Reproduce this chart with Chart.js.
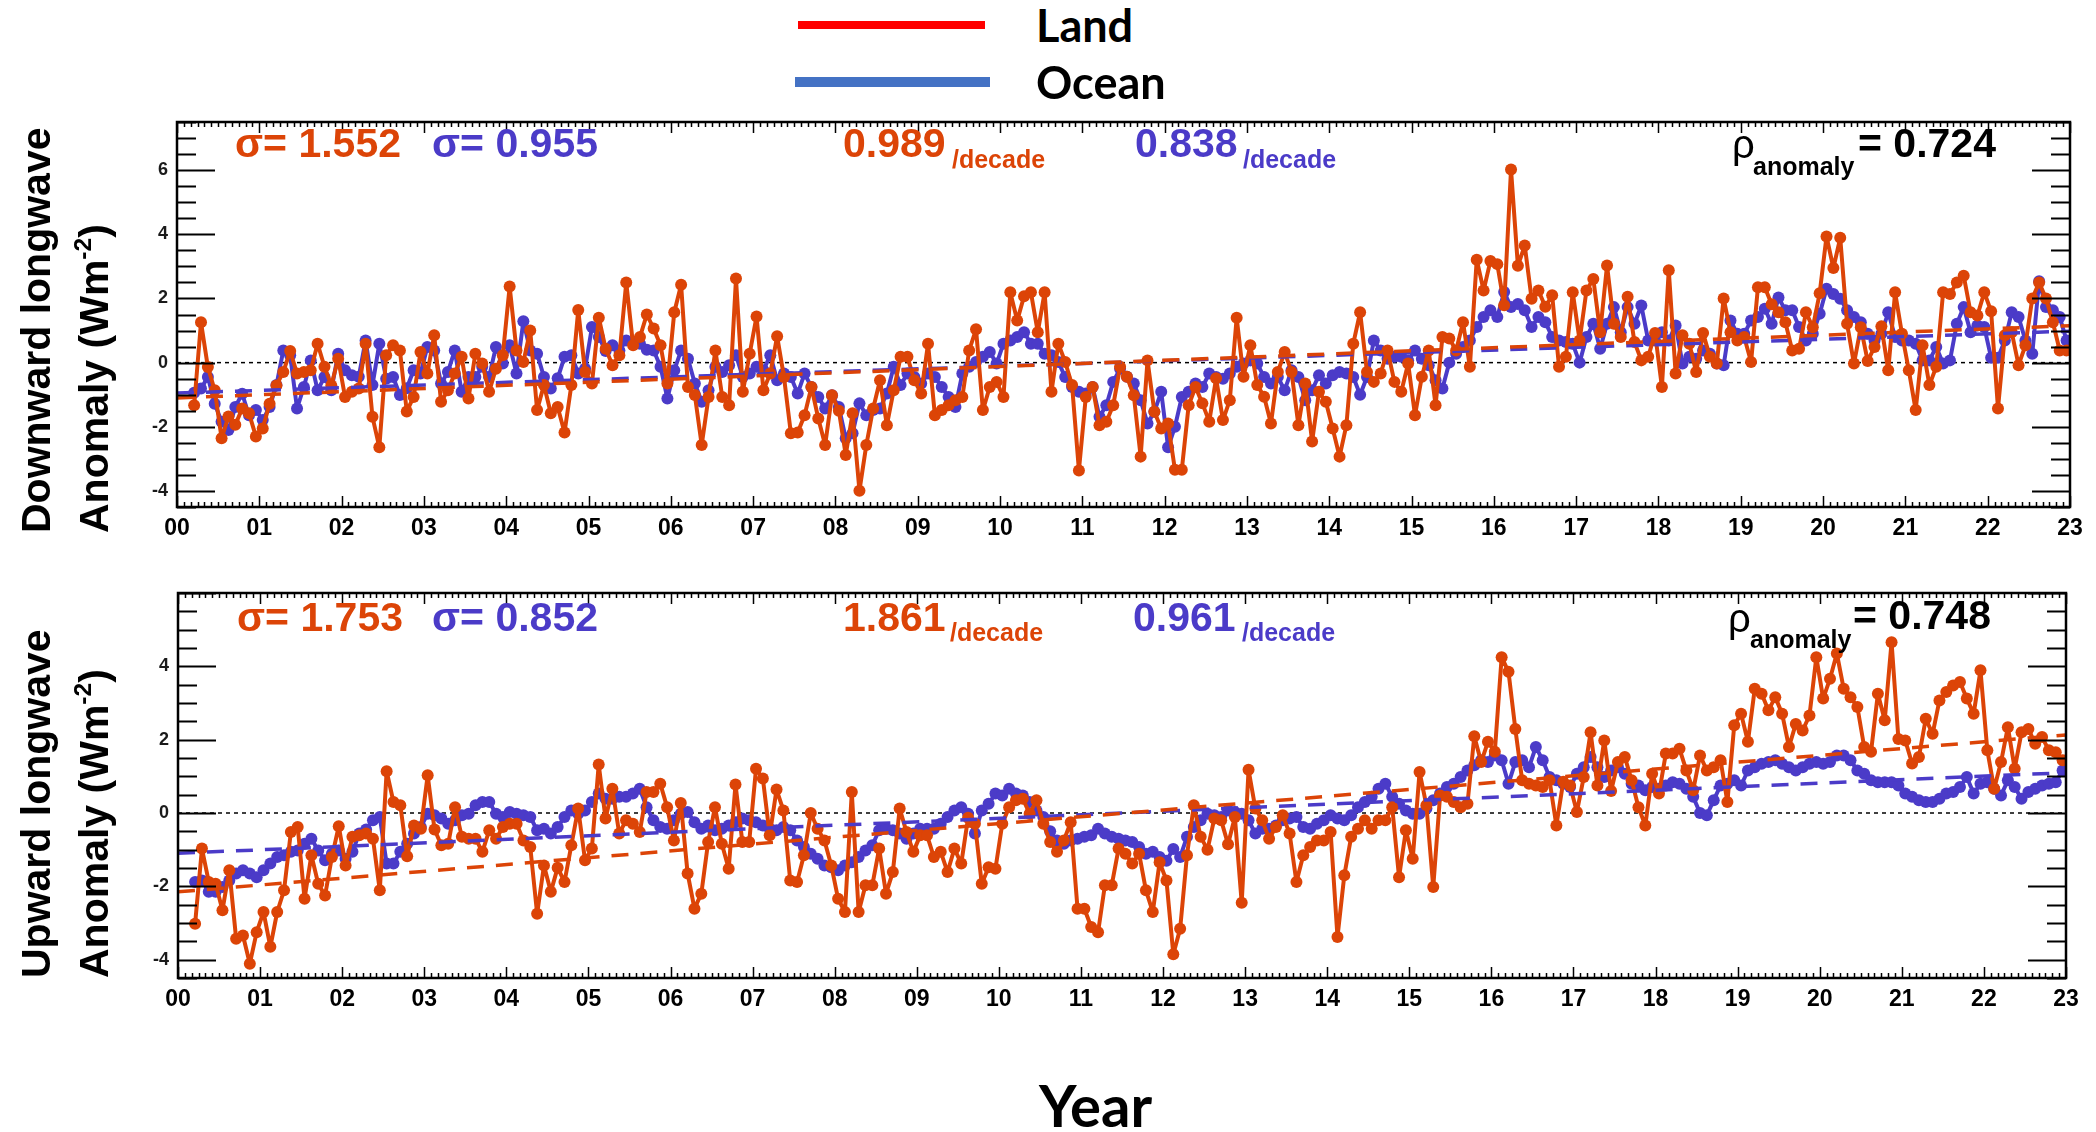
<!DOCTYPE html>
<html>
<head>
<meta charset="utf-8">
<script src="https://cdn.jsdelivr.net/npm/chart.js@4.4.1/dist/chart.umd.min.js"></script>
<style>
  html, body { margin: 0; padding: 0; background: #fff; }
  body { width: 2096px; height: 1132px; position: relative; overflow: hidden; }
  canvas { position: absolute; left: 0; }
  .t { position: absolute; white-space: nowrap; line-height: 1;
       font-family: 'Liberation Sans', Arial, sans-serif; font-weight: bold; }
  .ytitle { position: absolute; transform-origin: 0 0; transform: rotate(-90deg);
            font: bold 41px 'Liberation Sans', Arial, sans-serif; line-height: 58px; white-space: nowrap; }
  .ytitle sup { font-size: 0.6em; line-height: 0; vertical-align: 0.7em; }
  .leg { position: absolute; }
  .cal { position: absolute; font-family: Lato, 'Open Sans', sans-serif; font-weight: bold;
         line-height: 1; white-space: nowrap; color: #000; }
</style>
</head>
<body>

<canvas id="topChart" width="2096" height="460" style="top:100px"></canvas>
<canvas id="bottomChart" width="2096" height="460" style="top:570px"></canvas>

<div class="leg" style="left:798px; top:21px; width:187px; height:8px; background:#ff0000"></div>
<div class="leg" style="left:795px; top:77px; width:195px; height:10px; background:#4472c4"></div>
<div class="cal" style="left:1036px; top:3px; font-size:45px">Land</div>
<div class="cal" style="left:1036px; top:60px; font-size:45px">Ocean</div>
<div class="cal" style="left:1039px; top:1076px; font-size:58px">Year</div>

<div class="ytitle" style="left:7px; top:533px">Downward longwave<br>Anomaly (Wm<sup>-2</sup>)</div>
<div class="ytitle" style="left:7px; top:978px">Upward longwave<br>Anomaly (Wm<sup>-2</sup>)</div>

<script>
// monthly anomalies, March 2000 .. December 2022 (one row per year)
const firstMonth = 2;

const downLand = [
  -1.33, 1.26, -0.14, -0.86, -2.36, -1.68, -1.94, -1.43, -1.58, -2.30,
  -2.05, -1.28, -0.71, -0.29, 0.36, -0.34, -0.29, -0.24, 0.59, -0.13, -0.71, 0.12,
  -1.07, -0.91, -0.81, 0.59, -1.69, -2.64, 0.23, 0.54, 0.38, -1.52, -1.07, 0.33,
  -0.34, 0.85, -1.22, -0.86, -0.34, 0.18, -1.12, 0.28, -0.03, -0.91, -0.19, 0.23,
  2.37, 0.38, 0.02, 1.00, -1.48, -0.70, -1.58, -1.38, -2.18, -0.70, 1.64, -0.29,
  -0.65, 1.40, 0.43, -0.08, 0.23, 2.50, 0.54, 0.80, 1.50, 1.06, 0.54, -0.65,
  1.57, 2.43, -0.76, -1.01, -2.57, -1.07, 0.38, -1.07, -1.33, 2.62, -0.91, 0.28,
  1.44, -0.86, -0.34, 0.82, -0.45, -2.20, -2.18, -1.64, -0.76, -1.74, -2.57, -1.02,
  -1.50, -2.88, -1.58, -3.99, -2.57, -1.43, -0.55, -1.95, -0.86, 0.18, 0.18, -0.55,
  -0.96, 0.59, -1.64, -1.48, -1.33, -1.17, -1.07, 0.38, 1.04, -1.48, -0.76, -0.60,
  -1.07, 2.19, 1.31, 2.07, 2.19, 0.95, 2.19, -0.91, 0.59, 0.02, -0.70, -3.36,
  -1.07, -0.76, -1.95, -1.84, -1.33, -0.13, -0.44, -1.02, -2.93, 0.07, -1.53, -2.05,
  -1.90, -3.34, -3.34, -1.33, -0.76, -1.27, -1.84, -0.49, -1.79, -1.17, 1.40, -0.44,
  0.54, -0.70, -1.06, -1.90, -0.29, 0.33, -0.29, -1.95, -0.65, -2.46, -0.91, -1.22,
  -2.05, -2.93, -1.95, 0.59, 1.57, -0.29, -0.60, -0.34, 0.38, -0.60, -0.91, -0.03,
  -1.64, -0.44, 0.38, -1.33, 0.80, 0.75, 0.38, 1.26, -0.13, 3.21, 2.25, 3.17,
  3.07, 1.79, 6.02, 3.02, 3.65, 1.99, 2.25, 1.74, 2.10, -0.13, 0.18, 2.19,
  0.69, 2.25, 2.61, 0.95, 3.03, 1.21, 0.80, 2.05, 0.64, 0.07, 0.18, 0.92,
  -0.76, 2.88, -0.34, 0.85, 0.59, -0.29, 0.92, 0.18, -0.03, 2.00, 0.95, 0.69,
  0.80, 0.02, 2.35, 2.35, 1.82, 1.57, 1.26, 0.38, 0.43, 1.57, 1.10, 2.16,
  3.93, 2.95, 3.89, 1.21, -0.03, 1.10, 0.05, 0.49, 1.13, -0.24, 2.19, 0.90,
  -0.24, -1.48, 0.54, -0.70, -0.13, 2.19, 2.14, 2.50, 2.71, 1.57, 1.47, 2.19,
  1.60, -1.43, 0.85, 0.95, -0.08, 0.54, 2.00, 2.50, 2.00, 1.26, 0.38, 0.38
];

const downOcean = [
  -0.94, -0.81, -0.45, -1.28, -1.84, -2.10, -1.38, -0.97, -1.64, -1.48,
  -1.79, -1.38, -0.70, 0.38, 0.23, -1.43, -0.76, 0.07, -0.86, -0.45, -0.86, 0.28,
  -0.24, -0.39, -0.44, 0.69, -0.70, 0.59, -0.50, -0.45, -1.01, -0.80, -0.24, -0.34,
  0.49, 0.38, -0.65, -0.29, 0.38, -0.91, -0.45, -0.45, -0.13, -0.45, 0.49, -0.03,
  0.54, -0.34, 1.29, 0.38, 0.28, -0.45, -0.81, -0.49, 0.18, 0.23, -0.34, -0.19,
  1.11, 0.80, 0.36, 0.54, 0.38, 0.69, 0.64, 0.59, 0.40, 0.38, -0.13, -1.12,
  -0.24, 0.38, 0.12, -0.65, -1.22, -0.86, -0.13, -0.29, -0.08, 0.23, -0.45, -0.34,
  -0.13, -0.24, 0.23, -0.55, -0.34, -0.45, -0.96, -0.34, -0.76, -1.07, -1.43, -1.02,
  -1.38, -2.36, -2.20, -1.27, -1.64, -1.48, -1.43, -0.96, -0.13, -0.70, -0.34, -0.45,
  -0.65, -0.34, -0.45, -0.76, -1.07, -1.38, -0.34, -0.13, 0.02, 0.18, 0.33, -0.03,
  0.59, 0.69, 0.80, 0.95, 0.59, 0.59, 0.28, 0.23, 0.02, -0.45, -0.76, -0.91,
  -0.96, -0.76, -1.69, -1.33, -0.60, -0.19, -0.44, -0.65, -1.17, -1.90, -1.53, -0.91,
  -2.64, -2.00, -1.07, -0.91, -0.65, -0.76, -0.34, -0.45, -0.50, -0.34, -0.13, -0.03,
  0.07, -0.03, -0.45, -0.65, -0.45, -0.86, -0.24, -0.45, -1.17, -0.86, -0.39, -0.65,
  -0.39, -0.29, -0.34, -0.45, -1.00, -0.45, 0.69, 0.38, 0.12, 0.18, 0.18, 0.07,
  0.38, 0.12, -0.08, -0.55, -0.81, 0.00, 0.28, 0.49, 0.69, 1.11, 1.42, 1.63,
  1.42, 2.20, 1.73, 1.83, 1.63, 1.11, 1.42, 1.26, 0.80, 0.69, 0.64, 0.59,
  0.00, 0.80, 1.21, 0.43, 1.21, 1.73, 0.95, 1.73, 1.21, 1.78, 0.69, 0.69,
  0.95, 0.69, 1.16, -0.03, 0.18, 0.12, 0.38, 0.28, -0.03, -0.08, 1.31, 0.90,
  0.90, 1.31, 1.42, 1.68, 1.21, 2.03, 1.63, 1.63, 1.11, 0.69, 0.90, 1.52,
  2.30, 2.14, 1.99, 1.63, 1.42, 1.26, 0.90, 0.69, 0.90, 1.57, 0.80, 0.69,
  0.69, 0.59, 0.07, 0.07, 0.49, -0.03, 0.07, 1.21, 1.73, 0.95, 1.16, 1.11,
  0.15, 0.15, 0.69, 1.57, 1.42, 0.69, 0.28, 2.54, 1.73, 1.63, 1.42, 0.69
];

const upLand = [
  -3.02, -0.97, -1.88, -1.93, -2.65, -1.56, -3.43, -3.34, -4.11, -3.25,
  -2.70, -3.65, -2.70, -2.11, -0.52, -0.38, -2.34, -1.15, -1.93, -2.25, -1.20, -0.36,
  -1.43, -0.65, -0.61, -0.56, -0.70, -2.11, 1.14, 0.30, 0.21, -1.18, -0.34, -0.43,
  1.03, -0.45, -0.88, -0.84, 0.16, -0.65, -0.70, -0.70, -1.06, -0.47, -0.70, -0.38,
  -0.29, -0.29, -0.75, -0.93, -2.75, -1.43, -2.15, -1.49, -1.88, -0.88, 0.12, -1.29,
  -0.97, 1.32, -0.15, 0.66, -0.56, -0.20, -0.29, -0.52, 0.57, 0.57, 0.80, 0.16,
  -0.75, 0.27, -1.65, -2.61, -2.20, -0.79, 0.16, -0.84, -1.52, 0.78, -0.79, -0.79,
  1.21, 0.94, -0.61, 0.64, 0.07, -1.84, -1.88, -1.15, 0.00, -0.43, -0.75, -1.43,
  -2.34, -2.70, 0.57, -2.70, -1.97, -1.97, -0.97, -2.20, -1.61, 0.12, -0.52, -1.06,
  -0.61, -0.61, -1.20, -1.06, -1.61, -0.97, -1.38, -0.13, -0.29, -1.93, -1.48, -1.52,
  -0.29, 0.16, 0.35, 0.39, -0.02, 0.35, -0.29, -0.79, -1.06, -0.75, -0.25, -2.61,
  -2.61, -3.11, -3.25, -1.97, -1.97, -0.97, -1.11, -1.38, -1.11, -2.11, -2.70, -1.34,
  -1.84, -3.85, -3.16, -1.15, 0.21, -0.65, -1.00, -0.15, -0.20, -0.85, -0.11, -2.45,
  1.18, 0.12, -0.20, -0.70, -0.38, -0.06, -0.56, -1.88, -1.15, -0.93, -0.75, -0.75,
  -0.52, -3.38, -1.70, -0.65, -0.43, -0.20, -0.43, -0.20, -0.20, 0.16, -1.75, -0.47,
  -1.25, 1.12, 0.21, -2.02, 0.48, 0.44, 0.30, 0.16, 0.25, 2.09, 1.39, 1.94,
  1.67, 4.25, 3.85, 2.29, 0.89, 0.80, 0.75, 0.71, 0.89, -0.34, 0.85, 0.75,
  0.03, 0.98, 2.20, 0.75, 1.98, 0.60, 1.39, 1.53, 0.89, 0.16, -0.34, 1.07,
  0.53, 1.62, 1.62, 1.75, 1.16, 0.62, 1.57, 1.16, 1.25, 1.44, 0.30, 2.39,
  2.71, 1.94, 3.39, 3.25, 2.80, 3.16, 2.71, 1.80, 2.43, 2.25, 2.66, 4.25,
  3.12, 3.66, 4.35, 3.39, 3.16, 2.89, 1.80, 1.67, 3.25, 2.53, 4.66, 2.02,
  1.98, 1.35, 1.53, 2.57, 2.16, 3.07, 3.30, 3.48, 3.57, 3.12, 2.71, 3.89,
  1.71, 0.66, 1.39, 2.34, 1.21, 2.20, 2.29, 1.89, 2.07, 1.71, 1.66, 1.44
];

const upOcean = [
  -1.88, -1.84, -2.15, -2.15, -2.02, -1.84, -1.65, -1.56, -1.65, -1.75,
  -1.56, -1.38, -1.20, -1.15, -1.06, -1.02, -0.84, -0.70, -1.02, -1.29, -1.11, -1.02,
  -1.25, -1.06, -0.56, -0.45, -0.20, -0.11, -1.38, -1.38, -1.06, -0.84, -0.56, -0.38,
  -0.02, -0.06, -0.15, -0.29, -0.20, -0.06, -0.02, 0.21, 0.30, 0.30, -0.02, -0.11,
  0.03, -0.02, -0.06, -0.11, -0.47, -0.43, -0.56, -0.38, -0.11, 0.07, -0.02, 0.07,
  0.30, 0.53, 0.39, 0.39, 0.44, 0.44, 0.53, 0.66, 0.16, -0.20, -0.38, -0.43,
  -0.20, -0.02, 0.03, -0.25, -0.43, -0.34, -0.47, -0.43, -0.34, -0.25, -0.15, -0.20,
  -0.25, -0.34, -0.43, -0.47, -0.38, -0.47, -0.75, -0.93, -1.11, -1.25, -1.43, -1.48,
  -1.56, -1.43, -1.34, -1.20, -1.02, -0.88, -0.47, -0.43, -0.47, -0.56, -0.70, -0.56,
  -0.43, -0.43, -0.43, -0.29, -0.11, 0.07, 0.16, -0.02, -0.56, 0.07, 0.25, 0.53,
  0.48, 0.66, 0.53, 0.48, 0.30, 0.07, -0.11, -0.50, -0.75, -0.84, -0.75, -0.70,
  -0.65, -0.61, -0.43, -0.56, -0.65, -0.70, -0.75, -0.79, -0.93, -1.11, -1.06, -1.20,
  -1.30, -0.98, -1.20, -0.65, -0.38, -0.20, -0.02, -0.06, -0.11, 0.07, 0.03, -0.02,
  -0.20, -0.56, -0.43, -0.43, -0.34, -0.20, -0.15, -0.11, -0.38, -0.43, -0.29, -0.20,
  -0.06, -0.15, -0.20, -0.06, 0.16, 0.30, 0.44, 0.66, 0.80, 0.44, 0.25, 0.07,
  -0.02, -0.02, 0.12, 0.35, 0.53, 0.71, 0.80, 0.98, 1.16, 1.30, 1.44, 1.39,
  1.57, 1.44, 0.80, 1.39, 1.44, 1.25, 1.80, 1.44, 0.98, 0.89, 0.80, 0.71,
  1.07, 1.25, 1.53, 1.25, 0.98, 1.16, 1.25, 1.07, 0.80, 0.75, 0.62, 0.71,
  0.66, 0.75, 0.84, 0.80, 0.66, 0.44, 0.00, -0.06, 0.35, 0.75, 0.80, 0.89,
  0.75, 1.16, 1.25, 1.34, 1.39, 1.44, 1.34, 1.25, 1.16, 1.25, 1.34, 1.39,
  1.34, 1.39, 1.57, 1.57, 1.44, 1.16, 1.07, 0.89, 0.84, 0.84, 0.84, 0.75,
  0.53, 0.44, 0.35, 0.30, 0.30, 0.39, 0.53, 0.57, 0.71, 0.98, 0.53, 0.80,
  0.84, 0.66, 0.48, 0.89, 0.71, 0.39, 0.57, 0.66, 0.75, 0.80, 0.84, 1.16
];

// fitted trend lines, value at the start (00) and end (23) of the axis
const trendX = [0, 23];
const downLandTrend = [-1.10, 1.15];
const downOceanTrend = [-0.95, 0.98];
const upLandTrend = [-2.15, 2.13];
const upOceanTrend = [-1.10, 1.10];

const yearTicks = [0,1,2,3,4,5,6,7,8,9,10,11,12,13,14,15,16,17,18,19,20,21,22,23];
const yearLabels = ['00','01','02','03','04','05','06','07','08','09','10','11',
                    '12','13','14','15','16','17','18','19','20','21','22','23'];
const downTicks = [-4, -2, 0, 2, 4, 6];
const upTicks = [-4, -2, 0, 2, 4];

const LAND = '#dc4407';
const OCEAN = '#4b3bc8';

const toPoints = arr => arr.map((v, i) => ({ x: (firstMonth + i + 0.5) / 12, y: v }));
const toLine = arr => arr.map((v, i) => ({ x: trendX[i], y: v }));

// ROOT-like frame: inward ticks on all four sides and a dotted zero line
const rootFrame = {
  id: 'rootFrame',
  beforeDatasetsDraw(chart) {
    const { ctx, chartArea: a, scales: { y } } = chart;
    const y0 = y.getPixelForValue(0);
    ctx.save();
    ctx.strokeStyle = '#000';
    ctx.lineWidth = 1.5;
    ctx.setLineDash([4, 4]);
    ctx.beginPath();
    ctx.moveTo(a.left, y0);
    ctx.lineTo(a.right, y0);
    ctx.stroke();
    ctx.restore();
  },
  afterDraw(chart) {
    const { ctx, chartArea: a, scales: { x, y } } = chart;
    ctx.save();
    ctx.strokeStyle = '#000';
    ctx.lineWidth = 2;
    ctx.beginPath();
    for (let v = Math.ceil(y.min * 2) / 2; v <= y.max; v += 0.5) {
      const py = Math.round(y.getPixelForValue(v)) + 0.5;
      const len = Number.isInteger(v / 2) ? 38 : 19;
      ctx.moveTo(a.left, py); ctx.lineTo(a.left + len, py);
      ctx.moveTo(a.right, py); ctx.lineTo(a.right - len, py);
    }
    ctx.stroke();
    ctx.lineWidth = 1.5;
    ctx.beginPath();
    for (let m = 0; m <= 23 * 12; m++) {
      const px = Math.round(x.getPixelForValue(m / 12)) + 0.5;
      const len = m % 12 === 0 ? 11 : 5;
      ctx.moveTo(px, a.bottom); ctx.lineTo(px, a.bottom - len);
      ctx.moveTo(px, a.top); ctx.lineTo(px, a.top + len);
    }
    ctx.stroke();
    ctx.lineWidth = 2.5;
    ctx.strokeRect(a.left, a.top, a.right - a.left, a.bottom - a.top);
    ctx.restore();
  }
};

function makeChart(id, land, ocean, landTrend, oceanTrend, yMin, yMax, yTicks, box) {
  const series = (data, color, order) => ({
    data: toPoints(data),
    borderColor: color,
    backgroundColor: color,
    borderWidth: 4,
    borderJoinStyle: 'round',
    borderCapStyle: 'round',
    pointRadius: 6,
    pointBorderWidth: 0,
    tension: 0,
    order
  });
  const trend = (data, color, order) => ({
    data: toLine(data),
    borderColor: color,
    borderWidth: 3.5,
    borderDash: [17, 12],
    pointRadius: 0,
    order
  });
  return new Chart(document.getElementById(id), {
    type: 'line',
    data: {
      datasets: [
        series(ocean, OCEAN, 4),
        series(land, LAND, 3),
        trend(oceanTrend, OCEAN, 2),
        trend(landTrend, LAND, 1)
      ]
    },
    options: {
      responsive: false,
      animation: false,
      devicePixelRatio: 1,
      layout: { padding: { top: box.top, right: box.right, left: 0, bottom: 0 } },
      plugins: { legend: { display: false }, tooltip: { enabled: false } },
      scales: {
        x: {
          type: 'linear',
          min: 0,
          max: 23,
          grid: { display: false, drawTicks: false },
          border: { display: false },
          afterBuildTicks: s => { s.ticks = yearTicks.map(v => ({ value: v })); },
          afterFit: s => { s.height = box.xHeight; },
          ticks: {
            autoSkip: false,
            maxRotation: 0,
            padding: 8,
            color: '#000',
            font: { family: 'Liberation Sans', weight: 'bold', size: 23 },
            callback: (v, i) => yearLabels[i]
          }
        },
        y: {
          min: yMin,
          max: yMax,
          grid: { display: false, drawTicks: false },
          border: { display: false },
          afterBuildTicks: s => { s.ticks = yTicks.map(v => ({ value: v })); },
          afterFit: s => { s.width = box.yWidth; },
          ticks: {
            padding: 9,
            color: '#1a1a1a',
            font: { family: 'Liberation Sans', weight: 'bold', size: 18 },
            callback: v => String(v)
          }
        }
      }
    },
    plugins: [rootFrame]
  });
}

makeChart('topChart', downLand, downOcean, downLandTrend, downOceanTrend, -4.5, 7.5, downTicks,
  { top: 22, right: 26, xHeight: 53, yWidth: 177 });
makeChart('bottomChart', upLand, upOcean, upLandTrend, upOceanTrend, -4.5, 6, upTicks,
  { top: 23, right: 30, xHeight: 52, yWidth: 178 });

// in-plot statistics, placed on their text baseline
function put(text, x, base, size, color, weight) {
  const d = document.createElement('div');
  d.className = 't';
  d.textContent = text;
  d.style.left = x + 'px';
  d.style.top = (base - 0.8465 * size) + 'px';
  d.style.fontSize = size + 'px';
  d.style.color = color;
  if (weight) d.style.fontWeight = weight;
  document.body.appendChild(d);
}

put('\u03c3= 1.552', 235, 158, 41, LAND);
put('\u03c3= 0.955', 432, 158, 41, OCEAN);
put('0.989', 843, 158, 41, LAND);
put('/decade', 952, 168, 25, LAND);
put('0.838', 1135, 158, 41, OCEAN);
put('/decade', 1243, 168, 25, OCEAN);
put('\u03c1', 1732, 158, 40, '#000', 'normal');
put('anomaly', 1753, 175, 25, '#000');
put('= 0.724', 1858, 158, 41, '#000');

put('\u03c3= 1.753', 237, 632, 41, LAND);
put('\u03c3= 0.852', 432, 632, 41, OCEAN);
put('1.861', 843, 632, 41, LAND);
put('/decade', 950, 641, 25, LAND);
put('0.961', 1133, 632, 41, OCEAN);
put('/decade', 1242, 641, 25, OCEAN);
put('\u03c1', 1728, 632, 40, '#000', 'normal');
put('anomaly', 1750, 648, 25, '#000');
put('= 0.748', 1853, 630, 41, '#000');
</script>
</body>
</html>
